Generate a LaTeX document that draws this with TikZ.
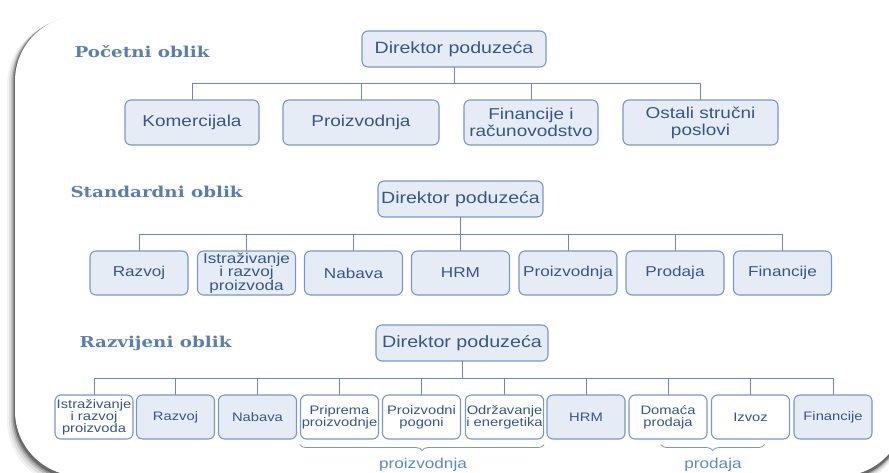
\documentclass[tikz,border=0pt]{standalone}
\usepackage{fontspec}
\setmainfont[FakeStretch=1.2]{Liberation Sans}
\newfontfamily\naslovfont[FakeStretch=1.22]{DejaVu Serif}
\usetikzlibrary{decorations.pathreplacing}
\definecolor{okvir}{HTML}{7898C4}
\definecolor{ispuna}{HTML}{E6ECF5}
\definecolor{tekst}{HTML}{34578A}
\definecolor{naslovboja}{HTML}{5A7FAE}
\definecolor{linija}{HTML}{6989BA}
\definecolor{grupa}{HTML}{5B8AC4}

\tikzset{
  kutija/.style={draw=okvir, line width=1.1pt, fill=ispuna, rounded corners=6pt,
    text=tekst, align=center, inner sep=1pt},
  bijela/.style={kutija, fill=white},
  veza/.style={draw=linija, line width=1pt},
  naslov/.style={text=naslovboja, anchor=base west,
    font=\naslovfont\bfseries\fontsize{15}{16}\selectfont},
  zagrada/.style={draw=okvir, line width=0.8pt, decorate,
    decoration={brace, mirror, amplitude=6pt}},
  grupatekst/.style={text=grupa, font=\fontsize{14.3}{15}\selectfont}
}

\begin{document}
\begin{tikzpicture}[x=1pt,y=-1pt,line cap=round,line join=round]
\useasboundingbox (0,0) rectangle (889,472);
\begin{scope}
\clip (0,0) rectangle (889,472);
\foreach \s/\o in {8/0.05, 6/0.08, 4/0.14, 2.5/0.22, 1.2/0.3}
  \fill[black, opacity=\o, rounded corners=65pt] (15-\s,16+0.5*\s) rectangle (905,478+\s);
\fill[white, rounded corners=65pt] (15,16) rectangle (905,476);
\end{scope}

\node[naslov] (t1) at (71,57) {Početni oblik};
\node[naslov] (t2) at (67,197) {Standardni oblik};
\node[naslov] (t3) at (76,347) {Razvijeni oblik};

\begin{scope}[every node/.append style={font=\fontsize{15.8}{17}\selectfont, minimum height=45pt}]
\node[kutija, minimum width=184pt, minimum height=36pt, font=\fontsize{16.3}{17}\selectfont] (dir1) at (454,49) {Direktor poduzeća};
\node[kutija, minimum width=134pt] (kom1) at (192,122.5) {Komercijala};
\node[kutija, minimum width=156pt] (pro1) at (361,122.5) {Proizvodnja};
\node[kutija, minimum width=134pt] (fin1) at (531,122.5) {Financije i\\računovodstvo};
\node[kutija, minimum width=155pt] (ost1) at (700.5,122.5) {Ostali stručni\\poslovi};
\end{scope}
\foreach \b in {kom1,pro1,fin1,ost1}
  \draw[veza] (dir1.south) -- ++(0,16) -| (\b.north);

\begin{scope}[every node/.append style={font=\fontsize{14.3}{13.5}\selectfont, minimum width=98pt, minimum height=44pt}]
\node[kutija, minimum width=165pt, minimum height=36pt, font=\fontsize{16.3}{17}\selectfont] (dir2) at (460.5,199) {Direktor poduzeća};
\node[kutija] (raz2) at (139,273) {Razvoj};
\node[kutija] (irp2) at (246.5,273) {Istraživanje\\i razvoj\\proizvoda};
\node[kutija] (nab2) at (353.5,273) {Nabava};
\node[kutija] (hrm2) at (460.5,273) {HRM};
\node[kutija] (pro2) at (568,273) {Proizvodnja};
\node[kutija] (prd2) at (675,273) {Prodaja};
\node[kutija] (fin2) at (782.5,273) {Financije};
\end{scope}
\foreach \b in {raz2,irp2,nab2,hrm2,pro2,prd2,fin2}
  \draw[veza] (dir2.south) -- ++(0,17) -| (\b.north);

\begin{scope}[every node/.append style={font=\fontsize{12.3}{12}\selectfont, minimum width=78pt, minimum height=44pt}]
\node[kutija, minimum width=172pt, minimum height=36pt, font=\fontsize{16.4}{17}\selectfont] (dir3) at (462,343) {Direktor poduzeća};
\node[bijela] (irp3) at (94,417) {Istraživanje\\i razvoj\\proizvoda};
\node[kutija] (raz3) at (175.5,417) {Razvoj};
\node[kutija] (nab3) at (257.5,417) {Nabava};
\node[bijela] (pri3) at (339.5,417) {Priprema\\proizvodnje};
\node[bijela] (pog3) at (421.5,417) {Proizvodni\\pogoni};
\node[bijela] (odr3) at (504.5,417) {Održavanje\\i energetika};
\node[kutija] (hrm3) at (586,417) {HRM};
\node[bijela] (dom3) at (668,417) {Domaća\\prodaja};
\node[bijela] (izv3) at (750.5,417) {Izvoz};
\node[kutija] (fin3) at (833,417) {Financije};
\end{scope}
\foreach \b in {irp3,raz3,nab3,pri3,pog3,odr3,hrm3,dom3,izv3,fin3}
  \draw[veza] (dir3.south) -- ++(0,17) -| (\b.north);

\draw[zagrada] ([yshift=-5pt]pri3.south west) -- ([yshift=-5pt]odr3.south east);
\node[grupatekst] (gpro) at (423,465) {proizvodnja};
\draw[zagrada] ([xshift=-7pt,yshift=-5pt]dom3.south) -- ([xshift=14pt,yshift=-5pt]izv3.south);
\node[grupatekst] (gprd) at (713,465) {prodaja};
\end{tikzpicture}
\end{document}
